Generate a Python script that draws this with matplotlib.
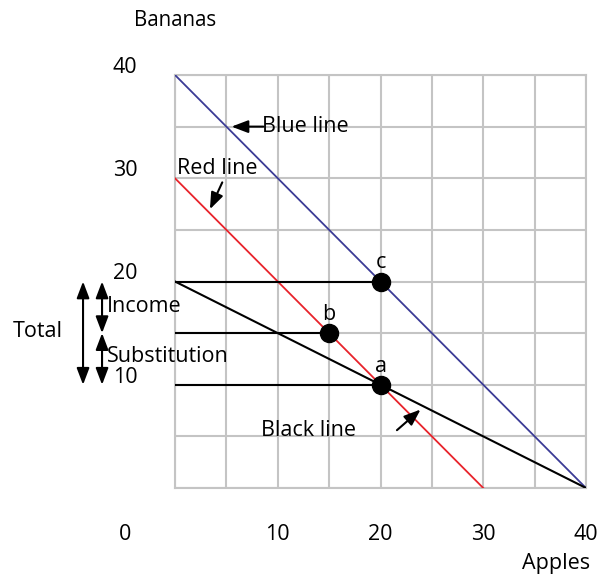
import matplotlib
matplotlib.use('Agg')
import matplotlib.pyplot as plt

plt.rcParams['font.family'] = ['Open Sans', 'DejaVu Sans']

# ---- data ----
blue_x = [0, 40]
blue_y = [40, 0]
red_x = [0, 30]
red_y = [30, 0]
black_x = [0, 40]
black_y = [20, 0]
point_names = ['a', 'b', 'c']
point_x = [20, 15, 20]
point_y = [10, 15, 20]
tick_values = [10, 20, 30, 40]
x_label = 'Apples'
y_label = 'Bananas'

FS = 15.5
fig = plt.figure(figsize=(6, 5.75), dpi=100)
ax = fig.add_axes([175/600, 1-488/575, 411/600, 413/575])
ax.set_xlim(0, 40)
ax.set_ylim(0, 40)
ax.set_xticks(range(0, 41, 5))
ax.set_yticks(range(0, 41, 5))
ax.tick_params(length=0, labelbottom=False, labelleft=False)
ax.grid(True, color='#c4c4c4', lw=1.5)
for s in ax.spines.values():
    s.set_color('#c4c4c4')
    s.set_linewidth(1.5)
ax.set_axisbelow(True)

ax.plot(blue_x, blue_y, color='#3b3b96', lw=1.3, zorder=3)
ax.plot(red_x, red_y, color='#e8232b', lw=1.3, zorder=3)
ax.plot(black_x, black_y, color='black', lw=1.5, zorder=3)
for px, py in zip(point_x, point_y):
    ax.plot([0, px], [py, py], color='black', lw=1.5, zorder=3)
ax.plot(point_x, point_y, 'o', color='black', ms=13, zorder=5)
for name, px, py in zip(point_names, point_x, point_y):
    ax.text(px, py + 1.8, name, ha='center', va='center', fontsize=FS, zorder=6)

# tick labels
for v in tick_values:
    ax.text(-4.87, v + 0.75, str(v), ha='center', va='center', fontsize=FS, clip_on=False)
    ax.text(v, -4.55, str(v), ha='center', va='center', fontsize=FS, clip_on=False)
ax.text(-4.87, -4.55, '0', ha='center', va='center', fontsize=FS, clip_on=False)
ax.text(0, 45.3, y_label, ha='center', va='center', fontsize=14.8, clip_on=False)
ax.text(37.1, -7.3, x_label, ha='center', va='center', fontsize=FS, clip_on=False)

arrow_kw = dict(arrowstyle='-|>,head_length=1.0,head_width=0.38', mutation_scale=10,
                color='black', lw=1.5, shrinkA=0, shrinkB=0)
dbl_kw = dict(arrowstyle='<|-|>,head_length=1.0,head_width=0.38', mutation_scale=10,
              color='black', lw=1.5, shrinkA=0, shrinkB=0)

# line labels
ax.text(8.5, 35, 'Blue line', ha='left', va='center', fontsize=FS, zorder=6)
ax.annotate('', xy=(5.5, 35), xytext=(8.6, 35), arrowprops=arrow_kw, zorder=6)
ax.text(0.2, 30.9, 'Red line', ha='left', va='center', fontsize=FS, zorder=6)
ax.annotate('', xy=(3.4, 27.0), xytext=(4.6, 29.6), arrowprops=arrow_kw, zorder=6)
ax.text(8.4, 5.6, 'Black line', ha='left', va='center', fontsize=FS, zorder=6)
ax.annotate('', xy=(23.9, 7.6), xytext=(21.6, 5.6), arrowprops=arrow_kw, zorder=6)

# decomposition arrows
ax.annotate('', xy=(-8.95, point_y[2]), xytext=(-8.95, point_y[0]), arrowprops=dbl_kw, annotation_clip=False)
ax.annotate('', xy=(-7.1, point_y[2]), xytext=(-7.1, point_y[1]), arrowprops=dbl_kw, annotation_clip=False)
ax.annotate('', xy=(-7.1, point_y[1]), xytext=(-7.1, point_y[0]), arrowprops=dbl_kw, annotation_clip=False)
ax.text(-10.9, 15.2, 'Total', ha='right', va='center', fontsize=FS, clip_on=False)
ax.text(-6.6, 17.6, 'Income', ha='left', va='center', fontsize=FS, clip_on=False)
ax.text(-6.6, 12.7, 'Substitution', ha='left', va='center', fontsize=FS, clip_on=False)

fig.savefig('out.png', dpi=100)
